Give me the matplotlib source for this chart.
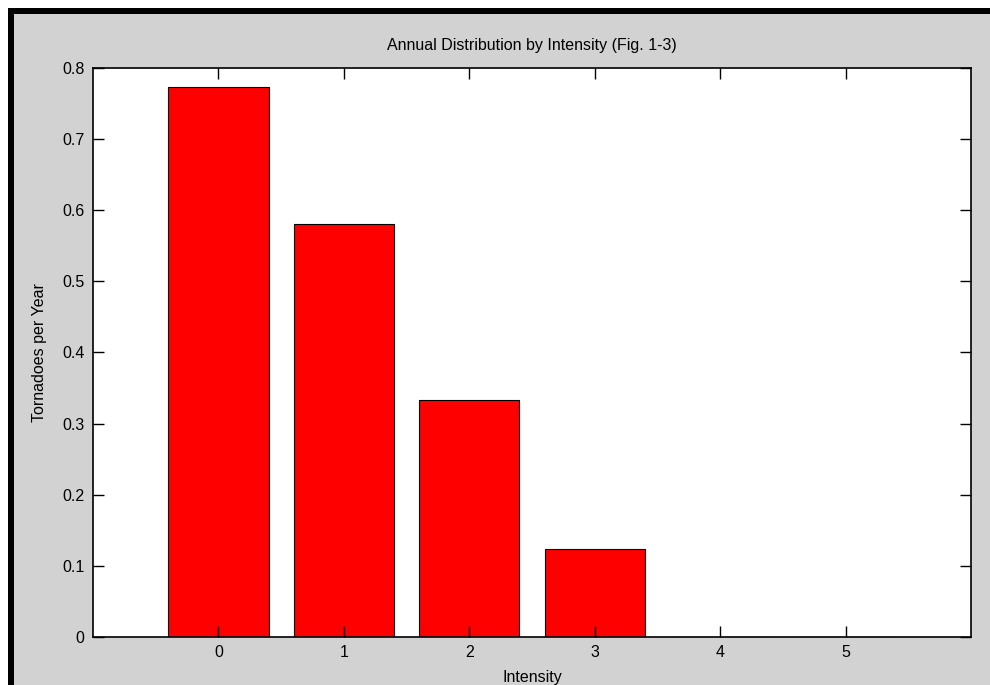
import matplotlib
matplotlib.use("Agg")
import matplotlib.pyplot as plt
from matplotlib.patches import Rectangle
from matplotlib import font_manager

intensity = [0, 1, 2, 3, 4, 5]
tornadoes_per_year = [0.773, 0.580, 0.333, 0.124, 0.0, 0.0]
ytick_values = [0, 0.1, 0.2, 0.3, 0.4, 0.5, 0.6, 0.7, 0.8]
ytick_labels = ["0", "0.1", "0.2", "0.3", "0.4", "0.5", "0.6", "0.7", "0.8"]

names = {f.name for f in font_manager.fontManager.ttflist}
fam = "Liberation Sans Narrow" if "Liberation Sans Narrow" in names else "Liberation Sans"
plt.rcParams['font.family'] = [fam, 'DejaVu Sans']

W, H = 990, 685
fig = plt.figure(figsize=(W / 100, H / 100), dpi=100)
fig.patch.set_facecolor("white")

# gray figure background and black frame (top/left)
fig.patches.append(Rectangle((8 / W, 0), 1 - 8 / W, 1 - 8 / H, transform=fig.transFigure,
                             facecolor="black", edgecolor="none", zorder=-10))
fig.patches.append(Rectangle((14 / W, 0), 1 - 14 / W, 1 - 14 / H, transform=fig.transFigure,
                             facecolor="#d2d2d2", edgecolor="none", zorder=-9))

left, right, top, bottom = 93, 971, 68, 637
ax = fig.add_axes([left / W, 1 - bottom / H, (right - left) / W, (bottom - top) / H])
ax.set_zorder(5)
ax.set_facecolor("white")

ax.bar(intensity, tornadoes_per_year, width=0.8, color="#ff0000", edgecolor="#000000",
       linewidth=0.8)

ax.set_xlim(-1, 6)
ax.set_ylim(0, 0.8)
ax.set_xticks(intensity)
ax.set_xticklabels([str(i) for i in intensity])
ax.set_yticks(ytick_values)
ax.set_yticklabels(ytick_labels)
ax.tick_params(direction="in", length=8, width=1, top=True, right=True,
               labelsize=11.5, pad=6, colors="black")
for s in ax.spines.values():
    s.set_linewidth(1.2)
    s.set_color("black")

ax.set_title("Annual Distribution by Intensity (Fig. 1-3)", fontsize=11.5, pad=13)
ax.set_ylabel("Tornadoes per Year", fontsize=11.5, labelpad=11)
ax.set_xlabel("Intensity", fontsize=11.5, labelpad=7)

fig.savefig("out.png", dpi=100, facecolor=fig.get_facecolor())
